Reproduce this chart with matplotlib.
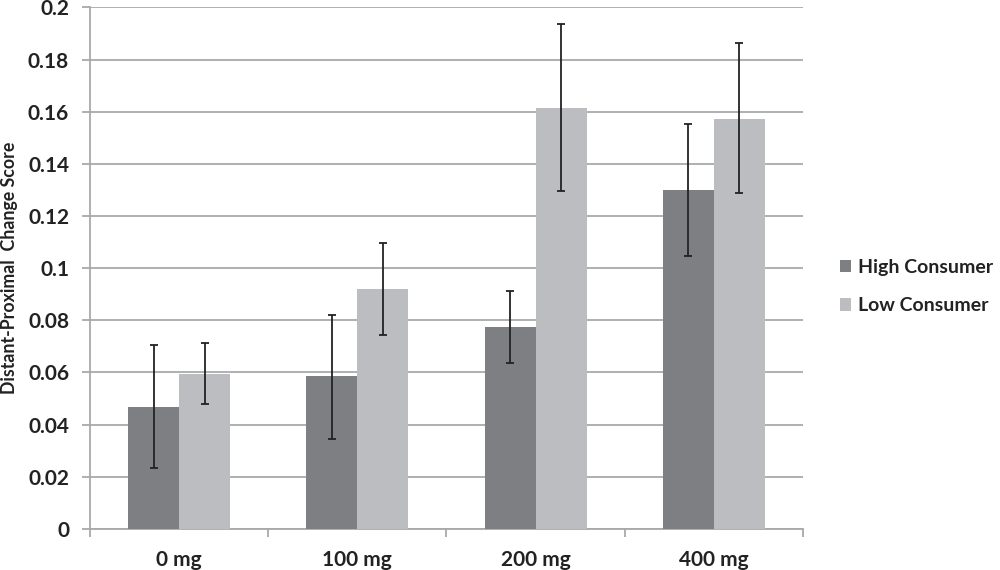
import matplotlib
matplotlib.use("Agg")
import matplotlib.pyplot as plt
from matplotlib.ticker import FixedLocator
import numpy as np

categories = ["0 mg", "100 mg", "200 mg", "400 mg"]
series_names = ["High Consumer", "Low Consumer"]
high_vals = [0.0467, 0.0586, 0.0776, 0.1300]
high_err_top = [0.0706, 0.0822, 0.0912, 0.1553]
high_err_bot = [0.0233, 0.0344, 0.0637, 0.1045]
low_vals = [0.0596, 0.0921, 0.1613, 0.1573]
low_err_top = [0.0714, 0.1096, 0.1935, 0.1863]
low_err_bot = [0.0478, 0.0745, 0.1296, 0.1290]
yticks = [0, 0.02, 0.04, 0.06, 0.08, 0.1, 0.12, 0.14, 0.16, 0.18, 0.2]
ytick_labels = ["0", "0.02", "0.04", "0.06", "0.08", "0.1", "0.12", "0.14", "0.16", "0.18", "0.2"]

plt.rcParams['font.family'] = ['Lato', 'DejaVu Sans']

fig = plt.figure(figsize=(10, 5.7), dpi=100)
ax = fig.add_axes([0.09, 0.072, 0.713, 0.915])

x = np.arange(len(categories))
w = 1 / 3.5
dark = "#7e7f83"
light = "#bcbdc1"
grid_c = "#a9a9a9"
txt = "#222222"

hv = np.array(high_vals); lv = np.array(low_vals)
h_err = [hv - np.array(high_err_bot), np.array(high_err_top) - hv]
l_err = [lv - np.array(low_err_bot), np.array(low_err_top) - lv]

ax.bar(x - w / 2, hv, w, color=dark, label=series_names[0], zorder=3)
ax.bar(x + w / 2, lv, w, color=light, label=series_names[1], zorder=3)
ax.errorbar(x - w / 2, hv, yerr=h_err, fmt='none', ecolor=txt, elinewidth=1.3,
            capsize=3.2, capthick=1.3, zorder=4)
ax.errorbar(x + w / 2, lv, yerr=l_err, fmt='none', ecolor=txt, elinewidth=1.3,
            capsize=3.2, capthick=1.3, zorder=4)

ax.set_xlim(-0.5, len(categories) - 0.5)
ax.set_ylim(0, 0.2)
ax.set_yticks(yticks)
ax.set_yticklabels(ytick_labels)
ax.yaxis.grid(True, color=grid_c, linewidth=1.3, zorder=0)
ax.set_axisbelow(True)

ax.set_xticks(x)
ax.set_xticklabels(categories)
ax.xaxis.set_minor_locator(FixedLocator(np.arange(-0.5, len(categories), 1.0)))
ax.tick_params(axis='x', which='major', length=0, pad=15, labelsize=15, labelcolor=txt)
ax.tick_params(axis='x', which='minor', length=6, width=1.3, color=grid_c, direction='out')
ax.tick_params(axis='y', which='major', length=6, width=1.3, color=grid_c, direction='out',
               pad=9, labelsize=15, labelcolor=txt)
for lab in ax.get_xticklabels() + ax.get_yticklabels():
    lab.set_fontweight('bold')

for s in ['top', 'right']:
    ax.spines[s].set_visible(False)
for s in ['left', 'bottom']:
    ax.spines[s].set_color(grid_c)
    ax.spines[s].set_linewidth(1.3)

ax.set_ylabel("Distant-Proximal  Change Score", fontsize=12.8, fontweight='bold',
              color=txt, labelpad=7)

leg = fig.legend(loc='center left', bbox_to_anchor=(0.826, 0.497), frameon=False,
                 fontsize=14, handlelength=0.6, handleheight=0.6,
                 handletextpad=0.35, labelspacing=1.1, borderpad=0.2)
for t in leg.get_texts():
    t.set_color(txt)
    t.set_fontweight('bold')

fig.savefig("out.png", dpi=100)
